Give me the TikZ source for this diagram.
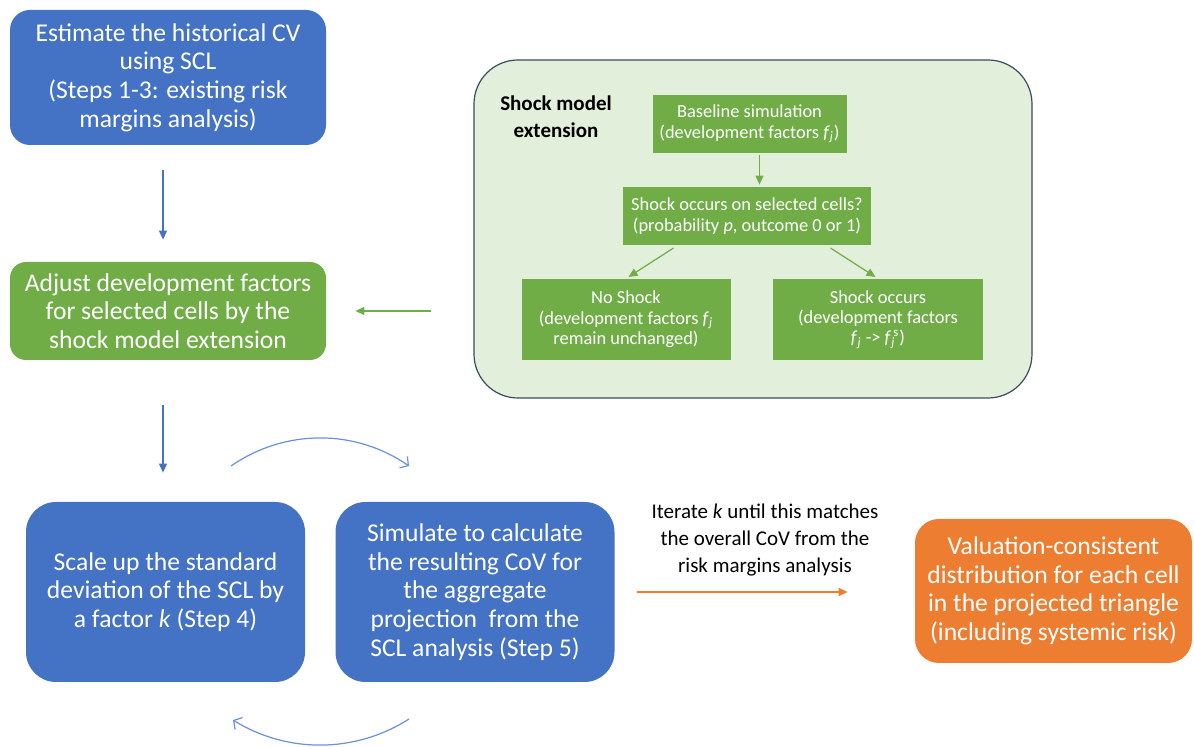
\documentclass[tikz,border=0pt]{standalone}
\usepackage{fontspec}
\setmainfont{Carlito}
\usetikzlibrary{arrows.meta}
\definecolor{stepBlue}{HTML}{4472C4}
\definecolor{loopBlue}{HTML}{6A90D8}
\definecolor{shockGreen}{HTML}{70AD47}
\definecolor{shockPale}{HTML}{E2EFDA}
\definecolor{shockEdge}{HTML}{3B4A5E}
\definecolor{resultOrange}{HTML}{ED7D31}
\newcommand{\fj}{\textit{f}\textsubscript{\textit{j}}}
\newcommand{\fjs}{\textit{f}\rlap{\textsubscript{\textit{j}}}\textsuperscript{\,s}}
\begin{document}
\begin{tikzpicture}[x=0.5pt,y=-0.5pt,
    mainBox/.style={rectangle,rounded corners=10pt,fill=stepBlue,text=white,align=center,inner sep=0pt,font=\fontsize{12.8}{14.3}\selectfont},
    adjBox/.style={mainBox,rounded corners=8pt,fill=shockGreen},
    loopBox/.style={mainBox,rounded corners=15pt,minimum width=139.5pt,minimum height=90pt},
    resultBox/.style={mainBox,rounded corners=12pt,fill=resultOrange},
    shockStep/.style={rectangle,fill=shockGreen,text=white,align=center,inner sep=0pt,font=\fontsize{9.2}{10.2}\selectfont},
    flowArrow/.style={-{Triangle[length=4.5pt,width=4pt]},line width=0.6pt},
    loopArrow/.style={-{Straight Barb[length=3pt,width=7pt]},line width=0.6pt,draw=loopBlue},
    iterLabel/.style={align=center,font=\fontsize{10.5}{13.5}\selectfont},
]
\useasboundingbox (0,0) rectangle (1194,747);
% === existing analysis (left column) ===
\node[mainBox,minimum width=158pt,minimum height=67.5pt] (EST) at (168,77.5) {Estimate the historical CV\\using SCL\\(Steps 1-3: existing risk\\margins analysis)};
\node[adjBox,minimum width=158pt,minimum height=49pt] (ADJ) at (168,311) {Adjust development factors\\for selected cells by the\\shock model extension};
\draw[flowArrow,draw=stepBlue,fill=stepBlue,shorten <=12.5pt,shorten >=11pt] ([xshift=-2.5pt]EST.south) -- ([xshift=-2.5pt]EST.south |- ADJ.north);
% === shock model extension (top right) ===
\node[rectangle,rounded corners=22pt,fill=shockPale,draw=shockEdge,line width=0.6pt,minimum width=279pt,minimum height=169pt] (SHOCK) at (753,229) {};
\node[font=\fontsize{10.5}{13.3}\selectfont\bfseries,align=center] (SHOCKT) at (556,117) {Shock model\\extension};
\node[shockStep,minimum width=97pt,minimum height=29pt] (BASE) at (749.5,124) {Baseline simulation\\(development factors \fj)};
\node[shockStep,minimum width=124pt,minimum height=29pt] (DECIDE) at (747,216) {Shock occurs on selected cells?\\(probability \textit{p}, outcome 0 or 1)};
\node[shockStep,minimum width=104.5pt,minimum height=40.5pt] (NOSHOCK) at (626,319.5) {No Shock\\(development factors \fj\\remain unchanged)};
\node[shockStep,minimum width=105pt,minimum height=40.5pt] (OCCURS) at (878,319.5) {Shock occurs\\(development factors\\\fj\ -> \fjs)};
\draw[flowArrow,draw=shockGreen,fill=shockGreen,shorten <=1pt,shorten >=1pt] ([xshift=5pt]BASE.south) -- ([xshift=5pt]BASE.south |- DECIDE.north);
\draw[flowArrow,draw=shockGreen,fill=shockGreen,shorten <=2.5pt,shorten >=1.5pt] ([xshift=27.5pt]DECIDE.south west) -- (NOSHOCK.north);
\draw[flowArrow,draw=shockGreen,fill=shockGreen,shorten <=2.5pt,shorten >=1.5pt] ([xshift=-22.5pt]DECIDE.south east) -- (OCCURS.north);
\draw[flowArrow,draw=shockGreen,fill=shockGreen,shorten <=21pt,shorten >=14.5pt] (SHOCK.west |- ADJ.east) -- (ADJ.east);
% === calibration loop (bottom) ===
\node[loopBox] (SCALE) at (165.5,592) {Scale up the standard\\deviation of the SCL by\\a factor \textit{k} (Step 4)};
\node[loopBox] (SIM) at (475,592) {Simulate to calculate\\the resulting CoV for\\the aggregate\\projection\ \ from the\\SCL analysis (Step 5)};
\node[resultBox,minimum width=138.5pt,minimum height=72pt] (VAL) at (1053.5,591) {Valuation-consistent\\distribution for each cell\\in the projected triangle\\(including systemic risk)};
\node[iterLabel] (ITER) at (765,540) {Iterate \textit{k} until this matches\\the overall CoV from the\\risk margins analysis};
\draw[flowArrow,draw=stepBlue,fill=stepBlue,shorten <=22.5pt,shorten >=14.5pt] ([xshift=-2.5pt]ADJ.south) -- ([xshift=-2.5pt]ADJ.south |- SCALE.north);
\draw[flowArrow,draw=resultOrange,fill=resultOrange,shorten <=11pt,shorten >=33.5pt] (SIM.east) -- (SIM.east -| VAL.west);
\coordinate (loopTopA) at (231,466);
\coordinate (loopTopB) at (409,466);
\coordinate (loopBotA) at (409,719);
\coordinate (loopBotB) at (233,720);
\draw[loopArrow] (loopTopA) .. controls (285,428.7) and (355,428.7) .. (loopTopB);
\draw[loopArrow] (loopBotA) .. controls (355,753.5) and (287,753.5) .. (loopBotB);
\end{tikzpicture}
\end{document}
